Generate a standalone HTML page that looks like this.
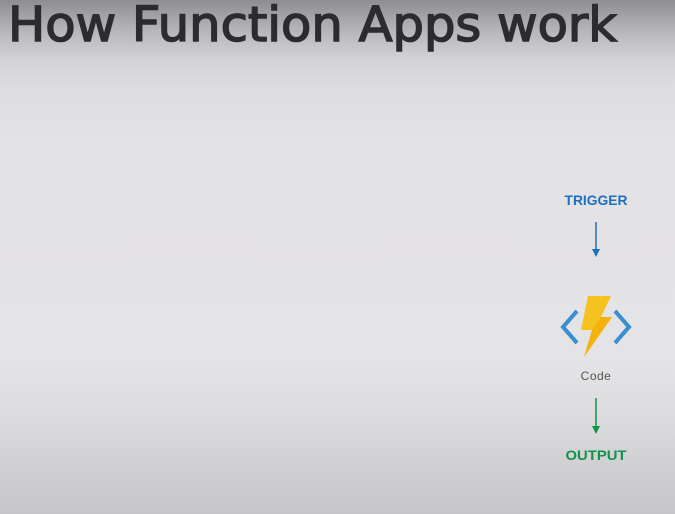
<!DOCTYPE html>
<html><head><meta charset="utf-8"><style>
html,body{margin:0;padding:0;}
body{width:675px;height:514px;overflow:hidden;
background:linear-gradient(to bottom,#8e8d8f 0px,#b5b4b6 30px,#d3d2d4 60px,#dedddf 90px,#e3e2e4 140px,#e4e3e5 360px,#dcdbdd 420px,#cfced0 470px,#c6c5c7 514px);}
</style></head><body>
<svg width="675" height="514" viewBox="0 0 675 514" xmlns="http://www.w3.org/2000/svg" style="position:absolute;left:0;top:0">
<text x="8" y="41" font-family="DejaVu Sans, sans-serif" font-size="48" fill="#2c2b2e" stroke="#2c2b2e" stroke-width="1.5" textLength="609" lengthAdjust="spacingAndGlyphs">How Function Apps work</text>
<text x="596" y="205" text-anchor="middle" font-family="Liberation Sans, sans-serif" font-weight="bold" font-size="14" fill="#1f6fbf" textLength="63" lengthAdjust="spacingAndGlyphs">TRIGGER</text>
<line x1="596" y1="222" x2="596" y2="250" stroke="#1f6fbf" stroke-width="1.5"/>
<polygon points="592,249 600,249 596,257" fill="#1f6fbf"/>
<polyline points="577,311 563,327 577,343" fill="none" stroke="#3a8fd0" stroke-width="4"/>
<polyline points="615,311 629,327 615,343" fill="none" stroke="#3a8fd0" stroke-width="4"/>
<polygon points="588,296 611,296 601,317 612,317 584,357 592,330 581,330" fill="#f5c31f"/>
<polygon points="601,317 612,317 584,357 592,330" fill="#f2a900" opacity="0.6"/>
<text x="596" y="380" text-anchor="middle" font-family="Liberation Sans, sans-serif" font-size="12" fill="#555" letter-spacing="0.5">Code</text>
<line x1="596" y1="398" x2="596" y2="427" stroke="#12924a" stroke-width="1.5"/>
<polygon points="592,426 600,426 596,434" fill="#12924a"/>
<text x="596" y="460" text-anchor="middle" font-family="Liberation Sans, sans-serif" font-weight="bold" font-size="14" fill="#12924a" textLength="61" lengthAdjust="spacingAndGlyphs">OUTPUT</text>
</svg>
</body></html>
